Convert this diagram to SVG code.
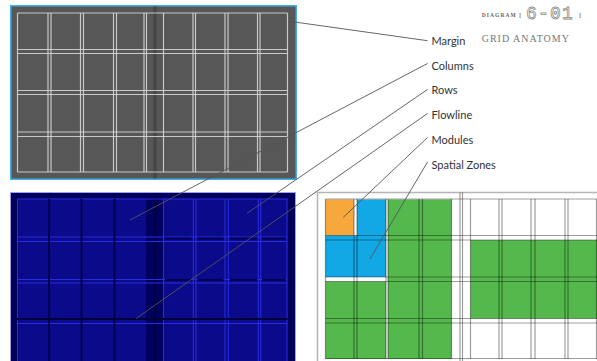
<svg xmlns="http://www.w3.org/2000/svg" width="597" height="361" viewBox="0 0 597 361">
<style>
.wl{stroke:#dcdcdc;stroke-width:1.2;stroke-opacity:0.85;fill:none}
.bb{stroke:#2b2be0;stroke-width:1;fill:none}
.bd{stroke:#00004e;stroke-width:2;fill:none}
.gl{stroke:#000;stroke-opacity:0.38;stroke-width:1.2;fill:none}
.lead{stroke:#555;stroke-width:0.9;fill:none}
.lab{font-family:Lato,"Liberation Sans",sans-serif;font-size:11px;fill:#333}
</style>
<rect x="0" y="0" width="597" height="361" fill="#fff"/>

<g id="top-panel">
<rect x="10.75" y="5.75" width="285.5" height="173.5" fill="#575757" stroke="#3fb0e8" stroke-width="1.5"/>
<line x1="155" y1="6.5" x2="155" y2="178.5" stroke="#454545" stroke-width="3"/>
<path class="wl" d="M17.5 13V172M48 13V172M51 13V172M80.5 13V172M83.5 13V172M113.5 13V172M116.5 13V172M144 13V172M146.5 13V172M163.5 13V172M193 13V172M195.5 13V172M225 13V172M228 13V172M257.5 13V172M260 13V172M287.5 13V172"/>
<path class="wl" d="M17.5 13H287.5M17.5 49.5H287.5M17.5 53.5H287.5M17.5 90.5H287.5M17.5 94.5H287.5M17.5 132H287.5M17.5 136.5H287.5M17.5 172H287.5"/>
</g>

<g id="blue-panel">
<rect x="10.5" y="192.5" width="285" height="175" fill="#00005a" stroke="#a0a0f0" stroke-width="1"/>
<rect x="17" y="198.5" width="270.5" height="170" fill="#0b0a8a"/>
<rect x="146" y="198.5" width="17" height="170" fill="#00005e"/>
<line x1="155" y1="193" x2="155" y2="361" stroke="#000045" stroke-width="2.5"/>
<path class="bb" d="M17.5 199V361M17 199H287.5M17.5 237H287M17.5 241.5H287M17.5 279.5H287M17.5 283H287M17.5 323.5H287"/>
<path class="bd" d="M49 199V361M81.5 199V361M114.5 199V361"/>
<path class="bb" d="M163.5 199V361M193.3 199V361M196 199V361M225 199V361M228.3 199V361M258.3 199V361M260.7 199V361M287 199V361"/>
<path class="bd" d="M165 238.5H191.5M197.5 238.5H223.5M230 238.5H257M262 238.5H285.5M165 280H191.5M197.5 280H223.5M230 280H257M262 280H285.5"/>
<line x1="17" y1="319" x2="287.5" y2="319" stroke="#000038" stroke-width="2"/>
</g>

<g id="zones-panel">
<path d="M317.5 361V192.5H597" fill="none" stroke="#b5b5b5" stroke-width="1.5"/>
<rect x="325.5" y="199.5" width="28.5" height="36" fill="#f6a83c"/>
<rect x="357" y="199.5" width="29" height="77.5" fill="#12a8e6"/>
<rect x="325.5" y="235.5" width="60.5" height="41.5" fill="#12a8e6"/>
<rect x="388" y="199.5" width="63.5" height="159.5" fill="#55b84c"/>
<rect x="325.5" y="281.5" width="60.5" height="77.5" fill="#55b84c"/>
<rect x="470.5" y="240" width="127" height="78.5" fill="#55b84c"/>
<path class="gl" d="M325.5 199V359M354 199V359M357 199V359M386 199V359M388 199V359M419 199V359M422.5 199V359M451.5 199V359M470.5 199V359M499 199V359M502 199V359M531 199V359M535 199V359M565 199V359M568 199V359M596.5 199V359"/>
<path class="gl" d="M460 192.5V361M462.5 192.5V361"/>
<path class="gl" d="M325.5 199H597M325.5 235.5H597M325.5 240H597M325.5 277H597M325.5 281.5H597M325.5 318.5H597M325.5 323H597M325.5 358.5H597"/>
</g>

<g id="connectors">
<path class="lead" d="M291 21.5L427.5 40.7"/>
<path class="lead" d="M427.5 63.5L130 220"/>
<path class="lead" d="M427.5 89.5L247 213.3"/>
<path class="lead" d="M427.5 113.5L136 318.5"/>
<path class="lead" d="M427.5 137.5L343.3 217.3"/>
<path class="lead" d="M427.5 162L370 259"/>
</g>

<g id="labels">
<text class="lab" x="431.5" y="45">Margin</text>
<text class="lab" x="431.5" y="69.7">Columns</text>
<text class="lab" x="431.5" y="94.4">Rows</text>
<text class="lab" x="431.5" y="119">Flowline</text>
<text class="lab" x="431.5" y="143.8">Modules</text>
<text class="lab" x="431.5" y="168.5">Spatial Zones</text>
</g>

<g id="header">
<text x="481.7" y="16.7" font-family="'Liberation Serif',serif" font-weight="bold" font-size="5.5" letter-spacing="1.1" fill="#666">DIAGRAM [</text>
<text x="526" y="18.5" font-family="'Liberation Mono',monospace" font-size="18" letter-spacing="1.2" fill="#fff" stroke="#8c8c8c" stroke-width="0.8">6-01</text>
<text x="579" y="16.7" font-family="'Liberation Serif',serif" font-weight="bold" font-size="5.5" fill="#666">]</text>
<text x="481.7" y="41.7" font-family="'Liberation Serif',serif" font-size="10" letter-spacing="1" fill="#777">GRID ANATOMY</text>
</g>
</svg>
